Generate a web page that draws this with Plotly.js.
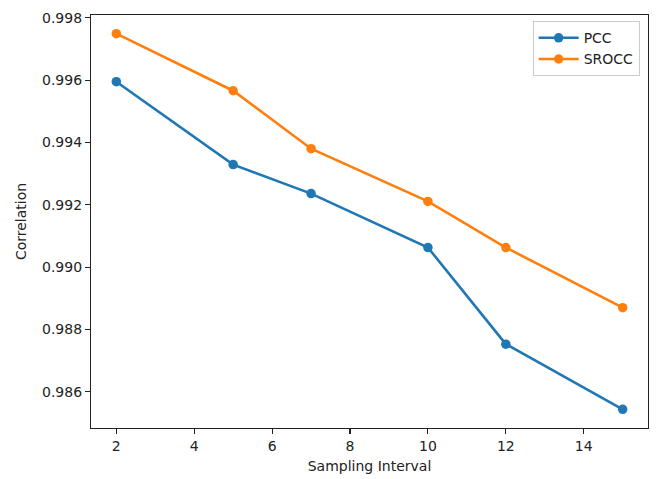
<!DOCTYPE html>
<html>
<head>
<meta charset="utf-8">
<script src="https://cdn.plot.ly/plotly-3.0.1.min.js"></script>
<style>html,body{margin:0;padding:0;background:#fff;}#chart{width:657px;height:479px;}</style>
</head>
<body>
<div id="chart"></div>
<script>
const intervals = [2, 5, 7, 10, 12, 15];
const pcc = [0.99595, 0.99329, 0.99236, 0.99063, 0.98753, 0.98544];
const srocc = [0.99749, 0.99566, 0.99380, 0.99211, 0.99063, 0.98870];
const seriesNames = ['PCC', 'SROCC'];

const font = {family: 'DejaVu Sans, sans-serif', size: 14, color: '#222'};
const traces = [
  {x: intervals, y: pcc, name: seriesNames[0], mode: 'lines+markers',
   line: {color: '#1f77b4', width: 2.6}, marker: {color: '#1f77b4', size: 9.5}},
  {x: intervals, y: srocc, name: seriesNames[1], mode: 'lines+markers',
   line: {color: '#ff7f0e', width: 2.6}, marker: {color: '#ff7f0e', size: 9.5}}
];
const axisCommon = {showline: true, mirror: true, linecolor: '#222', linewidth: 1.1,
  ticks: 'outside', ticklen: 5, tickcolor: '#222', tickwidth: 1.1, showgrid: false, zeroline: false,
  tickfont: font};
const layout = {
  width: 657, height: 479,
  margin: {l: 91, r: 9, t: 15, b: 51},
  paper_bgcolor: '#fff', plot_bgcolor: '#fff',
  font: font,
  showlegend: true,
  legend: {x: 0.985, xanchor: 'right', y: 0.985, yanchor: 'top', bgcolor: 'rgba(255,255,255,0.8)',
    bordercolor: '#ccc', borderwidth: 1, font: font, itemwidth: 40},
  xaxis: Object.assign({}, axisCommon, {range: [1.35, 15.65], tick0: 0, dtick: 2,
    title: {text: 'Sampling Interval', font: font, standoff: 8}}),
  yaxis: Object.assign({}, axisCommon, {range: [0.98484, 0.99809], tick0: 0.986, dtick: 0.002,
    tickformat: '.3f', title: {text: 'Correlation', font: font, standoff: 12}})
};
Plotly.newPlot('chart', traces, layout, {displayModeBar: false, staticPlot: true});
</script>
</body>
</html>
